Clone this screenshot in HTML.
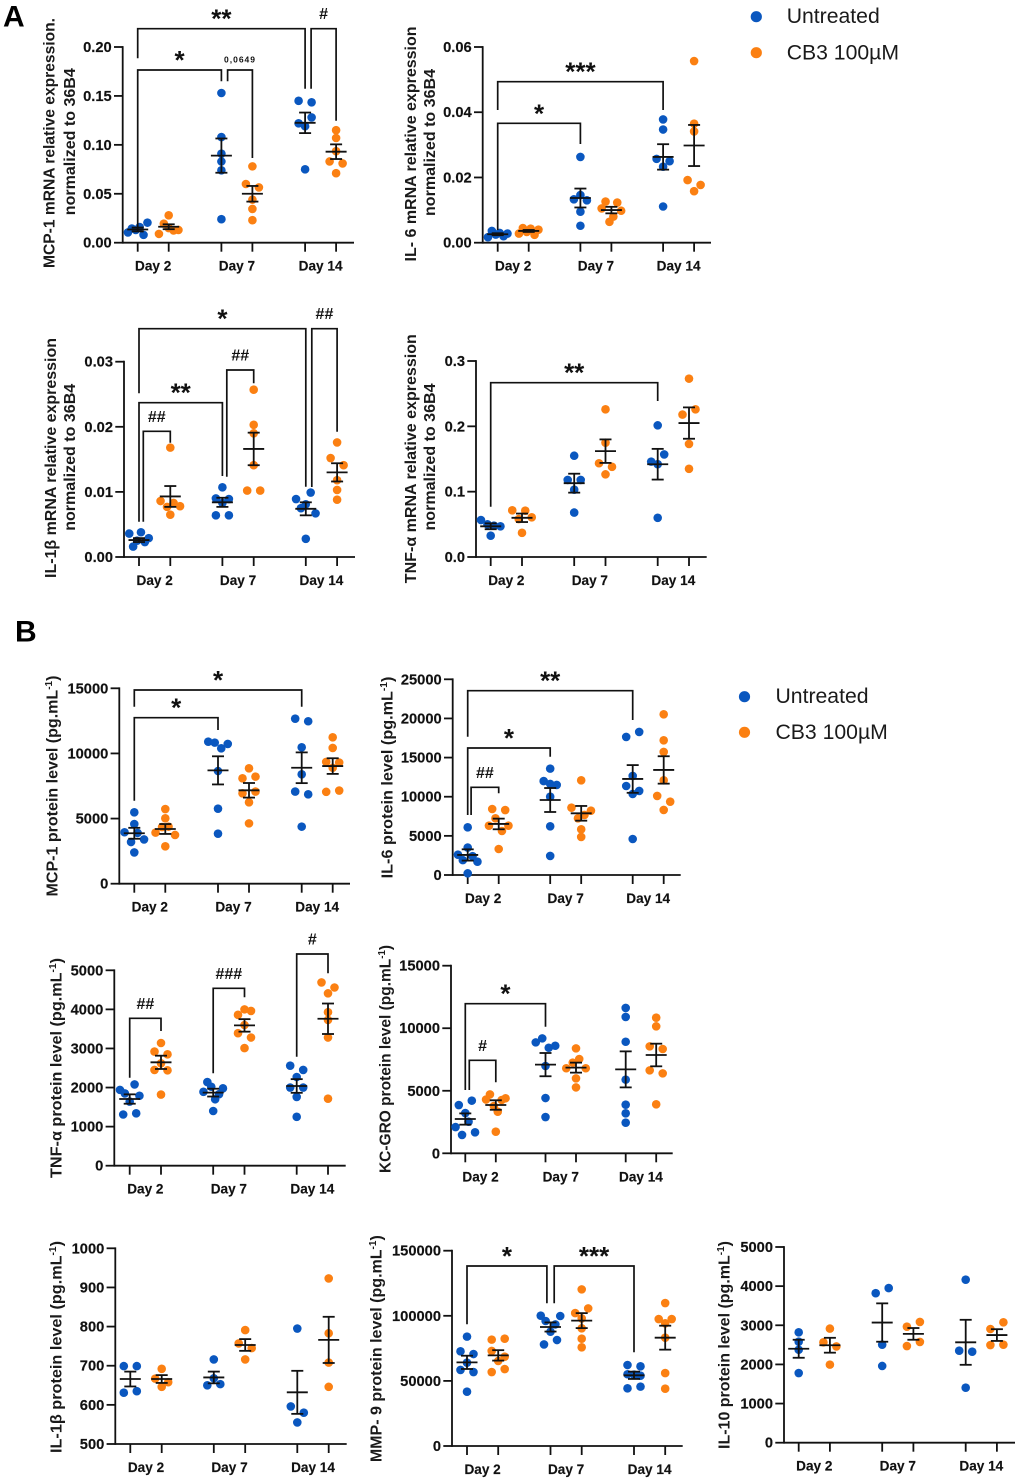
<!DOCTYPE html>
<html lang="en">
<head>
<meta charset="utf-8">
<title>Cytokine expression and protein levels</title>
<style>
html,body{margin:0;padding:0;background:#fff;}
svg{display:block;font-family:"Liberation Sans",Arial,sans-serif;}
.tick{font-size:14.7px;font-weight:700;fill:#111;stroke:#111;stroke-width:.15;}
.cat{font-size:13.6px;font-weight:700;fill:#111;stroke:#111;stroke-width:.15;}
.ttl{font-size:16px;font-weight:700;fill:#1a1a1a;}
.leg{font-size:21.2px;fill:#1a1a1a;}
.panel{font-size:30px;font-weight:700;fill:#000;}
</style>
</head>
<body>
<svg id="figure" xmlns="http://www.w3.org/2000/svg" width="1020" height="1482" viewBox="0 0 1020 1482">
  <rect width="1020" height="1482" fill="#fff"/>
  <text class="panel" x="3" y="26.7">A</text>
  <text class="panel" x="15" y="641.5">B</text>
  <g>
    <circle cx="756.3" cy="16.7" r="5.6" fill="#0a57bf"/>
    <text class="leg" x="786.7" y="23.2">Untreated</text>
    <circle cx="756.3" cy="52.7" r="5.6" fill="#fb8012"/>
    <text class="leg" x="786.7" y="59.7">CB3 100µM</text>
  </g>
  <g>
    <circle cx="744.5" cy="696.7" r="5.6" fill="#0a57bf"/>
    <text class="leg" x="775.5" y="703.2">Untreated</text>
    <circle cx="744.5" cy="732.3" r="5.6" fill="#fb8012"/>
    <text class="leg" x="775.5" y="739.2">CB3 100µM</text>
  </g>
</svg>
<script>
const categories = ['Day 2', 'Day 7', 'Day 14'];

const mcp1MrnaTicks = ['0.00', '0.05', '0.10', '0.15', '0.20'];
const mcp1MrnaUntreated = [[.0105, .0145, .013, .016, .008, .0205], [.153, .108, .091, .083, .074, .024], [.145, .1435, .122, .119, .128, .075]];
const mcp1MrnaTreated = [[.028, .009, .0195, .015, .0125, .013], [.078, .06, .0565, .044, .0345, .023], [.115, .107, .0935, .083, .081, .071]];
const mcp1MrnaUntreatedMean = [.0135, .089, .1225];
const mcp1MrnaUntreatedSem = [.002, .0175, .0105];
const mcp1MrnaTreatedMean = [.0163, .05, .093];
const mcp1MrnaTreatedSem = [.0025, .008, .0075];

const il6MrnaTicks = ['0.00', '0.02', '0.04', '0.06'];
const il6MrnaUntreated = [[.0017, .0036, .0025, .003, .002, .0028], [.0263, .0133, .0146, .013, .0095, .0052], [.0378, .0347, .0257, .0233, .025, .0111]];
const il6MrnaTreated = [[.0028, .0045, .0033, .0043, .0024, .004], [.0105, .0126, .0064, .008, .0123, .0098], [.0557, .0341, .0365, .0192, .0158, .0177]];
const il6MrnaUntreatedMean = [.0026, .0137, .0263];
const il6MrnaUntreatedSem = [.0003, .0029, .0039];
const il6MrnaTreatedMean = [.0036, .01, .0298];
const il6MrnaTreatedSem = [.0003, .001, .0063];

const il1bMrnaTicks = ['0.00', '0.01', '0.02', '0.03'];
const il1bMrnaUntreated = [[.0036, .0016, .0025, .0038, .0023, .0029], [.0107, .009, .0083, .0089, .0064, .0064], [.0089, .0075, .0081, .0099, .0067, .0028]];
const il1bMrnaTreated = [[.0168, .0086, .0077, .0065, .0083, .0078], [.0257, .0203, .019, .0141, .0102, .0102], [.0176, .0152, .0141, .0118, .0103, .0088]];
const il1bMrnaUntreatedMean = [.0026, .0084, .0074];
const il1bMrnaUntreatedSem = [.0003, .0007, .001];
const il1bMrnaTreatedMean = [.0093, .0166, .013];
const il1bMrnaTreatedSem = [.0016, .0025, .0014];

const tnfMrnaTicks = ['0.0', '0.1', '0.2', '0.3'];
const tnfMrnaUntreated = [[.0566, .05, .048, .047, .0326], [.155, .118, .118, .103, .068], [.2015, .146, .142, .157, .06]];
const tnfMrnaTreated = [[.0714, .058, .0709, .0607, .037], [.226, .175, .1435, .138, .1265], [.273, .218, .226, .173, .135]];
const tnfMrnaUntreatedMean = [.047, .113, .142];
const tnfMrnaUntreatedSem = [.0045, .0145, .0235];
const tnfMrnaTreatedMean = [.06, .162, .205];
const tnfMrnaTreatedSem = [.0065, .018, .024];

const mcp1ProteinTicks = ['0', '5000', '10000', '15000'];
const mcp1ProteinUntreated = [[5480, 4580, 3950, 3200, 3900, 3400, 2400], [10900, 10830, 10390, 10730, 8650, 5760, 3840], [12670, 12470, 10470, 8400, 7070, 6860, 4380]];
const mcp1ProteinTreated = [[5730, 5020, 3920, 4350, 4380, 3740, 2870], [8860, 8090, 8220, 6940, 7070, 6250, 4630], [11240, 10420, 9350, 8900, 9300, 7050, 7150]];
const mcp1ProteinUntreatedMean = [3870, 8700, 8900];
const mcp1ProteinUntreatedSem = [420, 1080, 1180];
const mcp1ProteinTreatedMean = [4200, 7170, 9030];
const mcp1ProteinTreatedSem = [380, 560, 600];

const il6ProteinTicks = ['0', '5000', '10000', '15000', '20000', '25000'];
const il6ProteinUntreated = [[6090, 2600, 1900, 3500, 2400, 1700, 210], [13590, 12000, 11630, 11500, 10000, 6220, 2430], [17640, 18280, 12650, 11370, 10350, 10740, 4600]];
const il6ProteinTreated = [[8430, 8300, 6300, 7240, 5620, 6300, 3320], [12100, 8600, 7240, 7670, 8220, 5840, 4860], [20530, 17210, 15720, 12100, 10100, 9370, 8310]];
const il6ProteinUntreatedMean = [2560, 9580, 12270];
const il6ProteinUntreatedSem = [720, 1530, 1770];
const il6ProteinTreatedMean = [6520, 7880, 13420];
const il6ProteinTreatedSem = [680, 940, 1750];

const tnfProteinTicks = ['0', '1000', '2000', '3000', '4000', '5000'];
const tnfProteinUntreated = [[1940, 1850, 1640, 2080, 1790, 1310, 1340], [1890, 2140, 2020, 1700, 1830, 1980, 1400], [2560, 2270, 2450, 2000, 2000, 1760, 1250]];
const tnfProteinTreated = [[3140, 2920, 2850, 2450, 2620, 2440, 1820], [3860, 4000, 3960, 3600, 3390, 3280, 3010], [4690, 4410, 4560, 3930, 3730, 3280, 1715]];
const tnfProteinUntreatedMean = [1706, 1870, 2040];
const tnfProteinUntreatedSem = [120, 100, 175];
const tnfProteinTreatedMean = [2645, 3590, 3760];
const tnfProteinTreatedSem = [170, 160, 390];

const kcGroTicks = ['0', '5000', '10000', '15000'];
const kcGroUntreated = [[3860, 4210, 3220, 2100, 1470, 2530, 1680], [8870, 9190, 8440, 8600, 6980, 4420, 2900], [11620, 10900, 8920, 5890, 3890, 3200, 2450]];
const kcGroTreated = [[4300, 4710, 3780, 3330, 4260, 4400, 1730], [8390, 6800, 7250, 7540, 6800, 5990, 5270], [10840, 10150, 8550, 8340, 6630, 6390, 3920]];
const kcGroUntreatedMean = [2740, 7090, 6710];
const kcGroUntreatedSem = [450, 930, 1440];
const kcGroTreatedMean = [3860, 6850, 7860];
const kcGroTreatedSem = [380, 400, 905];

const il1bProteinTicks = ['500', '600', '700', '800', '900', '1000'];
const il1bProteinUntreated = [[699, 699, 631, 635], [716, 650, 668, 653], [795, 596, 580, 555]];
const il1bProteinTreated = [[692, 667, 646, 658], [791, 757, 745, 716], [923, 783, 708, 646]];
const il1bProteinUntreatedMean = [666, 670, 632];
const il1bProteinUntreatedSem = [19, 15, 55];
const il1bProteinTreatedMean = [666, 753, 766];
const il1bProteinTreatedSem = [10, 15, 59];

const mmp9Ticks = ['0', '50000', '100000', '150000'];
const mmp9Untreated = [[84000, 72700, 70650, 58400, 64000, 56800, 41700], [100100, 96000, 87800, 93400, 99840, 78000, 81400], [62200, 61200, 55100, 54800, 54000, 44300, 45600]];
const mmp9Treated = [[81700, 82400, 73000, 65300, 68600, 56800, 59100], [120300, 102100, 98000, 105700, 90400, 82400, 75800], [109800, 97500, 94200, 97500, 83200, 56000, 44000]];
const mmp9UntreatedMean = [64250, 91400, 54300];
const mmp9UntreatedSem = [5100, 3500, 2800];
const mmp9TreatedMean = [69600, 96300, 83200];
const mmp9TreatedSem = [4000, 5750, 9200];

const il10Ticks = ['0', '1000', '2000', '3000', '4000', '5000'];
const il10Untreated = [[2820, 2580, 2375, 1780], [3820, 3950, 2505, 1960], [4165, 2350, 2325, 1405]];
const il10Treated = [[2915, 2565, 2460, 1995], [2965, 3085, 2470, 2575], [2905, 3075, 2495, 2505]];
const il10UntreatedMean = [2400, 3070, 2565];
const il10UntreatedSem = [230, 490, 575];
const il10TreatedMean = [2490, 2780, 2750];
const il10TreatedSem = [190, 150, 150];

const SVG_NS = 'http://www.w3.org/2000/svg';
const figure = document.getElementById('figure');
const BLUE = '#0a57bf';
const ORANGE = '#fb8012';
const INK = '#111';
const DOT_RADIUS = 4.3;
const SWARM_STEP = 6.5;
const OVERLAP_GAP = 7.5;

function node(tag, parent, attrs, text) {
  const el = document.createElementNS(SVG_NS, tag);
  for (const key in attrs) el.setAttribute(key, attrs[key]);
  if (text !== undefined) el.textContent = text;
  parent.appendChild(el);
  return el;
}

function strokeLine(parent, x1, y1, x2, y2, width) {
  return node('line', parent, {x1: x1, y1: y1, x2: x2, y2: y2, stroke: INK, 'stroke-width': width});
}

// Lays tied points side by side, from the values' own vertical spacing.
function swarmSlots(values, yScale) {
  const order = values.map((v, i) => i).sort((a, b) => yScale(values[a]) - yScale(values[b]));
  const slots = new Array(values.length).fill(0);
  let cluster = [];
  const flush = () => {
    const members = cluster.slice().sort((a, b) => a - b);
    const n = members.length;
    members.forEach((idx, k) => {
      if (n === 1) slots[idx] = 0;
      else if (n === 2) slots[idx] = k === 0 ? -1 : 1;
      else if (n === 3) slots[idx] = k - 1;
      else slots[idx] = k * 3 / (n - 1) - 1.5;
    });
    cluster = [];
  };
  order.forEach((idx, pos) => {
    if (pos > 0 && yScale(values[idx]) - yScale(values[order[pos - 1]]) >= OVERLAP_GAP) flush();
    cluster.push(idx);
  });
  flush();
  return slots;
}

function drawSeries(parent, name, color, seriesIndex, values, means, sems, xScale, yScale) {
  values.forEach((dayValues, day) => {
    const slots = swarmSlots(dayValues, yScale);
    const cx = xScale(day, seriesIndex);
    dayValues.forEach((value, i) => {
      const dot = node('circle', parent, {cx: cx + slots[i] * SWARM_STEP, cy: yScale(value), r: DOT_RADIUS, fill: color});
      
      
    });
  });
  means.forEach((mean, day) => {
    const cx = xScale(day, seriesIndex);
    const sem = sems[day];
    const group = node('g', parent, {});
    
    
    strokeLine(group, cx - 10.5, yScale(mean), cx + 10.5, yScale(mean), 1.8);
    strokeLine(group, cx, yScale(mean + sem), cx, yScale(mean - sem), 1.8);
    strokeLine(group, cx - 6, yScale(mean + sem), cx + 6, yScale(mean + sem), 1.8);
    strokeLine(group, cx - 6, yScale(mean - sem), cx + 6, yScale(mean - sem), 1.8);
  });
}

function drawChart(cfg) {
  const chart = node('g', figure, {});
  
  

  const low = parseFloat(cfg.ticks[0]);
  const high = parseFloat(cfg.ticks[cfg.ticks.length - 1]);
  const yScale = v => cfg.bottom - (v - low) / (high - low) * (cfg.bottom - cfg.top);
  const xScale = (day, series) => cfg.first + day * cfg.groupGap + series * cfg.pairGap;

  const yAxis = strokeLine(chart, cfg.axisX, cfg.top - 0.9, cfg.axisX, cfg.bottom + 0.9, 1.8);
  
  
  const xAxis = strokeLine(chart, cfg.axisX, cfg.bottom, cfg.endX, cfg.bottom, 1.8);
  
  

  cfg.ticks.forEach(label => {
    const y = yScale(parseFloat(label));
    strokeLine(chart, cfg.axisX - 8.7, y, cfg.axisX, y, 1.8);
    const tickText = node('text', chart, {class: 'tick', x: cfg.axisX - 11, y: y + 5, 'text-anchor': 'end'}, label);
    
    
  });

  categories.forEach((label, day) => {
    strokeLine(chart, xScale(day, 0), cfg.bottom, xScale(day, 0), cfg.bottom + 9, 1.8);
    strokeLine(chart, xScale(day, 1), cfg.bottom, xScale(day, 1), cfg.bottom + 9, 1.8);
    const catText = node('text', chart, {class: 'cat', x: xScale(day, 0.5), y: cfg.bottom + 28, 'text-anchor': 'middle'}, label);
    
    
  });

  cfg.titles.forEach(t => {
    const title = node('text', chart, {class: 'ttl', 'text-anchor': 'middle', textLength: t.len, lengthAdjust: 'spacingAndGlyphs',
      transform: 'translate(' + t.x + ',' + t.cy + ') rotate(-90)'});
    
    
    node('tspan', title, {}, t.text);
    if (t.unit) {
      node('tspan', title, {dy: -5.5, 'font-size': 10}, '-1');
      node('tspan', title, {dy: 5.5}, ')');
    }
  });

  drawSeries(chart, cfg.name + '-untreated', BLUE, 0, cfg.untreated, cfg.untreatedMean, cfg.untreatedSem, xScale, yScale);
  drawSeries(chart, cfg.name + '-cb3', ORANGE, 1, cfg.treated, cfg.treatedMean, cfg.treatedSem, xScale, yScale);

  (cfg.brackets || []).forEach(b => {
    const xL = xScale(b.from[0], b.from[1]) + (b.fromNudge || 0);
    const xR = xScale(b.to[0], b.to[1]) + (b.toNudge || 0);
    const group = node('g', chart, {});
    
    
    node('polyline', group, {points: xL + ',' + b.left + ' ' + xL + ',' + b.top + ' ' + xR + ',' + b.top + ' ' + xR + ',' + b.right,
      fill: 'none', stroke: INK, 'stroke-width': 1.7});
    const mid = (xL + xR) / 2;
    const isStar = b.label[0] === '*';
    const isHash = b.label[0] === '#';
    const attrs = {x: mid, 'text-anchor': 'middle', fill: INK, 'font-weight': 700};
    if (isStar) { attrs.y = b.top - 1; attrs['font-size'] = 26; }
    else if (isHash) { attrs.y = b.top - 9.5; attrs['font-size'] = 16; }
    else { attrs.y = b.top - 7.5; attrs['font-size'] = 8.5; attrs['letter-spacing'] = 1; }
    const mark = node('text', group, attrs, b.label);
    
    
  });
}

const MRNA_NORM = 'normalized to 36B4';

drawChart({
  name: 'mcp1-mrna', ticks: mcp1MrnaTicks, axisX: 122.7, endX: 354, top: 47, bottom: 242.7, first: 137.7, groupGap: 83.7, pairGap: 31,
  untreated: mcp1MrnaUntreated, treated: mcp1MrnaTreated,
  untreatedMean: mcp1MrnaUntreatedMean, untreatedSem: mcp1MrnaUntreatedSem, treatedMean: mcp1MrnaTreatedMean, treatedSem: mcp1MrnaTreatedSem,
  titles: [{text: 'MCP-1 mRNA relative expression.', x: 54.3, cy: 143, len: 250}, {text: MRNA_NORM, x: 75, cy: 141.7, len: 147}],
  brackets: [
    {from: [0, 0], to: [2, 0], top: 28.7, left: 58.3, right: 88.7, label: '**'},
    {from: [2, 0], fromNudge: 6, to: [2, 1], top: 28.7, left: 88.7, right: 120.7, label: '#'},
    {from: [0, 0], to: [1, 0], top: 70, left: 230, right: 81.3, label: '*'},
    {from: [1, 0], fromNudge: 6.2, to: [1, 1], top: 70, left: 81.3, right: 158, label: '0,0649'}
  ]
});

drawChart({
  name: 'il6-mrna', ticks: il6MrnaTicks, axisX: 482.7, endX: 711, top: 47, bottom: 242.7, first: 497.7, groupGap: 82.7, pairGap: 31,
  untreated: il6MrnaUntreated, treated: il6MrnaTreated,
  untreatedMean: il6MrnaUntreatedMean, untreatedSem: il6MrnaUntreatedSem, treatedMean: il6MrnaTreatedMean, treatedSem: il6MrnaTreatedSem,
  titles: [{text: 'IL- 6 mRNA relative expression', x: 416, cy: 144, len: 235}, {text: MRNA_NORM, x: 435, cy: 142.5, len: 147}],
  brackets: [
    {from: [0, 0], to: [2, 0], top: 81.7, left: 110, right: 110, label: '***'},
    {from: [0, 0], to: [1, 0], top: 123.3, left: 230, right: 144, label: '*'}
  ]
});

drawChart({
  name: 'il1b-mrna', ticks: il1bMrnaTicks, axisX: 124, endX: 355, top: 361.7, bottom: 557, first: 139, groupGap: 83.4, pairGap: 31.3,
  untreated: il1bMrnaUntreated, treated: il1bMrnaTreated,
  untreatedMean: il1bMrnaUntreatedMean, untreatedSem: il1bMrnaUntreatedSem, treatedMean: il1bMrnaTreatedMean, treatedSem: il1bMrnaTreatedSem,
  titles: [{text: 'IL-1β mRNA relative expression', x: 56, cy: 458, len: 240}, {text: MRNA_NORM, x: 75, cy: 457.3, len: 147}],
  brackets: [
    {from: [0, 0], to: [2, 0], top: 328.7, left: 393.3, right: 486.7, label: '*'},
    {from: [2, 0], fromNudge: 6, to: [2, 1], top: 328.7, left: 487, right: 431.7, label: '##'},
    {from: [0, 0], to: [1, 0], top: 402.7, left: 521.7, right: 476, label: '**'},
    {from: [1, 0], fromNudge: 4.4, to: [1, 1], top: 370, left: 476.7, right: 383.3, label: '##'},
    {from: [0, 0], fromNudge: 4.3, to: [0, 1], top: 431.3, left: 521.7, right: 442.7, label: '##'}
  ]
});

drawChart({
  name: 'tnf-mrna', ticks: tnfMrnaTicks, axisX: 476, endX: 706.7, top: 361, bottom: 557, first: 490.7, groupGap: 83.5, pairGap: 31.3,
  untreated: tnfMrnaUntreated, treated: tnfMrnaTreated,
  untreatedMean: tnfMrnaUntreatedMean, untreatedSem: tnfMrnaUntreatedSem, treatedMean: tnfMrnaTreatedMean, treatedSem: tnfMrnaTreatedSem,
  titles: [{text: 'TNF-α mRNA relative expression', x: 416, cy: 458.7, len: 249}, {text: MRNA_NORM, x: 435, cy: 457, len: 147}],
  brackets: [
    {from: [0, 0], to: [2, 0], top: 382.7, left: 506.7, right: 401, label: '**'}
  ]
});

drawChart({
  name: 'mcp1-protein', ticks: mcp1ProteinTicks, axisX: 119.3, endX: 350, top: 688.3, bottom: 883.7, first: 134.3, groupGap: 83.7, pairGap: 31,
  untreated: mcp1ProteinUntreated, treated: mcp1ProteinTreated,
  untreatedMean: mcp1ProteinUntreatedMean, untreatedSem: mcp1ProteinUntreatedSem, treatedMean: mcp1ProteinTreatedMean, treatedSem: mcp1ProteinTreatedSem,
  titles: [{text: 'MCP-1 protein level (pg.mL', unit: true, x: 57.3, cy: 786, len: 221}],
  brackets: [
    {from: [0, 0], to: [2, 0], top: 690, left: 706.7, right: 706.7, label: '*'},
    {from: [0, 0], to: [1, 0], top: 717.7, left: 800.7, right: 730, label: '*'}
  ]
});

drawChart({
  name: 'il6-protein', ticks: il6ProteinTicks, axisX: 452.7, endX: 680.7, top: 679.3, bottom: 875, first: 467.7, groupGap: 82.5, pairGap: 31,
  untreated: il6ProteinUntreated, treated: il6ProteinTreated,
  untreatedMean: il6ProteinUntreatedMean, untreatedSem: il6ProteinUntreatedSem, treatedMean: il6ProteinTreatedMean, treatedSem: il6ProteinTreatedSem,
  titles: [{text: 'IL-6 protein level (pg.mL', unit: true, x: 392.7, cy: 777.5, len: 201.7}],
  brackets: [
    {from: [0, 0], to: [2, 0], top: 690.7, left: 736.7, right: 720, label: '**'},
    {from: [0, 0], to: [1, 0], top: 748, left: 815, right: 756.7, label: '*'},
    {from: [0, 0], fromNudge: 3.4, to: [0, 1], top: 787.3, left: 815, right: 793.3, label: '##'}
  ]
});

drawChart({
  name: 'tnf-protein', ticks: tnfProteinTicks, axisX: 114.3, endX: 345.7, top: 970.3, bottom: 1165.7, first: 129.7, groupGap: 83.5, pairGap: 31.3,
  untreated: tnfProteinUntreated, treated: tnfProteinTreated,
  untreatedMean: tnfProteinUntreatedMean, untreatedSem: tnfProteinUntreatedSem, treatedMean: tnfProteinTreatedMean, treatedSem: tnfProteinTreatedSem,
  titles: [{text: 'TNF-α protein level (pg.mL', unit: true, x: 61.7, cy: 1068, len: 220}],
  brackets: [
    {from: [0, 0], to: [0, 1], top: 1018.3, left: 1077.7, right: 1031, label: '##'},
    {from: [1, 0], to: [1, 1], top: 988.3, left: 1073.3, right: 997.3, label: '###'},
    {from: [2, 0], to: [2, 1], top: 954, left: 1056.7, right: 973.3, label: '#'}
  ]
});

drawChart({
  name: 'kc-gro', ticks: kcGroTicks, axisX: 451, endX: 672.7, top: 965.7, bottom: 1153.3, first: 465.3, groupGap: 80.2, pairGap: 30.5,
  untreated: kcGroUntreated, treated: kcGroTreated,
  untreatedMean: kcGroUntreatedMean, untreatedSem: kcGroUntreatedSem, treatedMean: kcGroTreatedMean, treatedSem: kcGroTreatedSem,
  titles: [{text: 'KC-GRO protein level (pg.mL', unit: true, x: 390.7, cy: 1059, len: 228}],
  brackets: [
    {from: [0, 0], to: [1, 0], top: 1003.7, left: 1090, right: 1026.7, label: '*'},
    {from: [0, 0], fromNudge: 4, to: [0, 1], top: 1060.3, left: 1090, right: 1082.3, label: '#'}
  ]
});

drawChart({
  name: 'il1b-protein', ticks: il1bProteinTicks, axisX: 115.3, endX: 346.7, top: 1248.3, bottom: 1444, first: 130.3, groupGap: 83.5, pairGap: 31.4,
  untreated: il1bProteinUntreated, treated: il1bProteinTreated,
  untreatedMean: il1bProteinUntreatedMean, untreatedSem: il1bProteinUntreatedSem, treatedMean: il1bProteinTreatedMean, treatedSem: il1bProteinTreatedSem,
  titles: [{text: 'IL-1β protein level (pg.mL', unit: true, x: 61.7, cy: 1347, len: 212}]
});

drawChart({
  name: 'mmp9', ticks: mmp9Ticks, axisX: 452, endX: 682.7, top: 1250.7, bottom: 1446, first: 467, groupGap: 83.5, pairGap: 31.2,
  untreated: mmp9Untreated, treated: mmp9Treated,
  untreatedMean: mmp9UntreatedMean, untreatedSem: mmp9UntreatedSem, treatedMean: mmp9TreatedMean, treatedSem: mmp9TreatedSem,
  titles: [{text: 'MMP- 9 protein level (pg.mL', unit: true, x: 381.7, cy: 1348.7, len: 227}],
  brackets: [
    {from: [0, 0], to: [1, 0], toNudge: -3.6, top: 1266, left: 1324.3, right: 1303.3, label: '*'},
    {from: [1, 0], fromNudge: 3.7, to: [2, 0], top: 1266, left: 1303.3, right: 1352.3, label: '***'}
  ]
});

drawChart({
  name: 'il10', ticks: il10Ticks, axisX: 784, endX: 1015, top: 1247, bottom: 1442.7, first: 798.7, groupGap: 83.5, pairGap: 31.2,
  untreated: il10Untreated, treated: il10Treated,
  untreatedMean: il10UntreatedMean, untreatedSem: il10UntreatedSem, treatedMean: il10TreatedMean, treatedSem: il10TreatedSem,
  titles: [{text: 'IL-10 protein level (pg.mL', unit: true, x: 729.3, cy: 1345, len: 208}]
});
</script>
</body>
</html>
